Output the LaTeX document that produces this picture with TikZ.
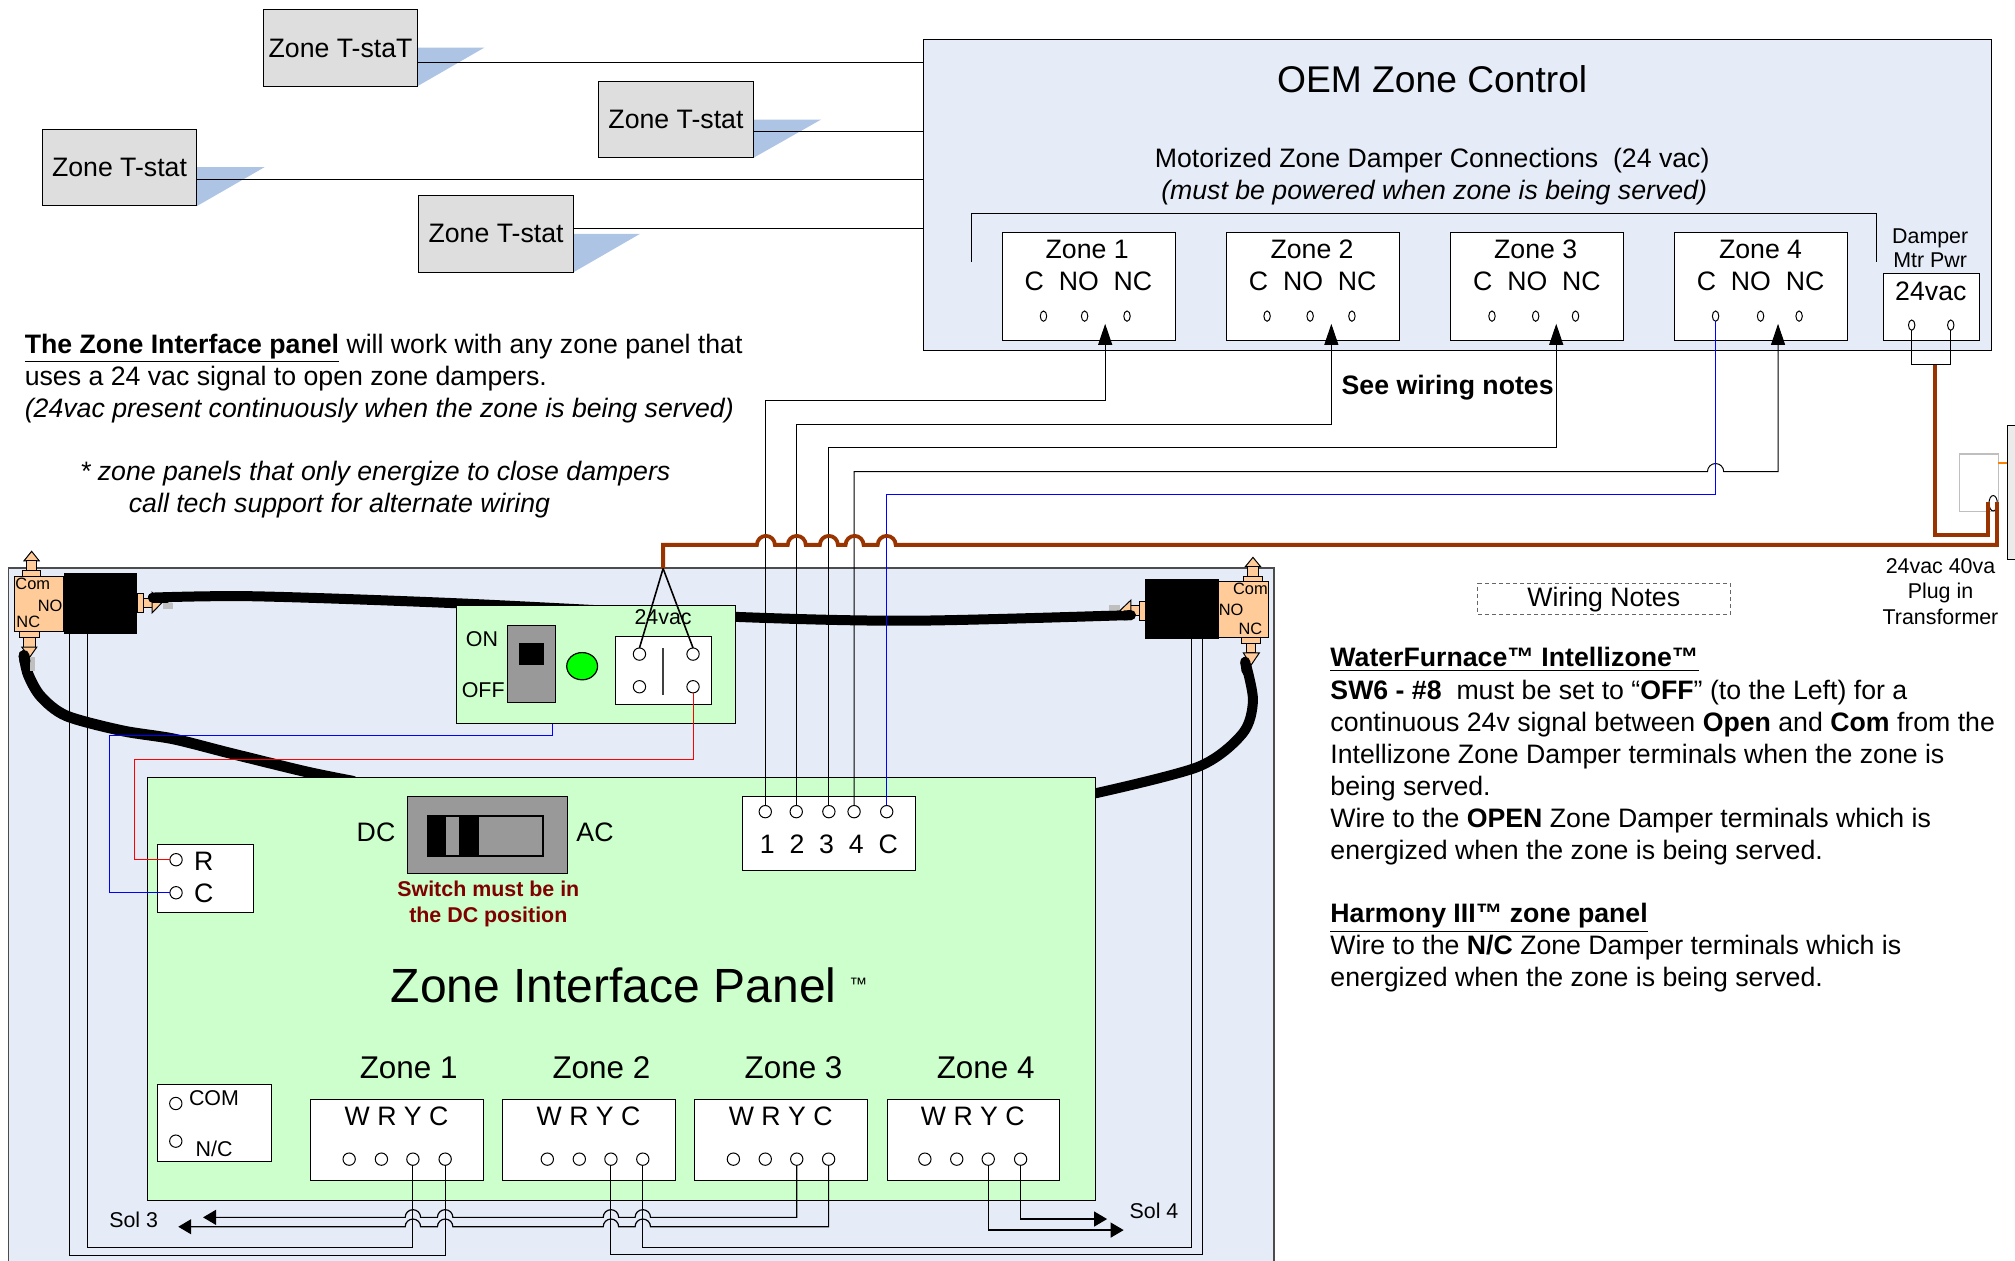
\documentclass[tikz,border=0pt]{standalone}
\usepackage{fontspec}
\setmainfont{Liberation Sans}
\usepackage{tikz}
\usetikzlibrary{arrows.meta, shapes.geometric}

\definecolor{panelblue}{HTML}{E6ECF7}
\definecolor{shadowblue}{HTML}{AEC4E5}
\definecolor{panelgreen}{HTML}{CCFFCC}
\definecolor{mainsbrown}{HTML}{993300}
\definecolor{valveorange}{HTML}{FFCC99}
\definecolor{notered}{HTML}{800000}

\tikzset{
  wh/.style 2 args={inner sep=0pt, outer sep=0pt, minimum width=#1*0.6425pt, minimum height=#2*0.6425pt},
  box/.style={draw, line width=0.5pt, fill=white},
  tstat/.style={draw, line width=0.5pt, fill=black!13, wh={120}{59.5}, font=\fontsize{13.34}{16}\selectfont},
  damperbox/.style={box, wh={134.5}{84.5}},
  wrycbox/.style={box, wh={134.5}{63.5}},
  term/.style={draw, ellipse, fill=white, line width=0.5pt, wh={9.6}{9.6}},
  smallterm/.style={draw, ellipse, fill=white, line width=0.5pt, wh={5}{8}},
  txt/.style={inner sep=0pt, anchor=base, font=\fontsize{13.34}{16}\selectfont},
  lefttxt/.style={inner sep=0pt, anchor=base west, font=\fontsize{13.34}{16}\selectfont},
  smalltxt/.style={inner sep=0pt, anchor=base, font=\fontsize{10.7}{13}\selectfont},
  valvetxt/.style={inner sep=0pt, anchor=base, font=\fontsize{8.2}{10}\selectfont},
  wire/.style={line width=0.5pt},
  bluewire/.style={line width=0.5pt, blue},
  redwire/.style={line width=0.5pt, red},
  mains/.style={line width=1.9pt, mainsbrown},
  tube/.style={line width=5pt, line cap=round},
  valve/.style={draw, line width=0.5pt, fill=valveorange},
  tip/.style={-{Triangle[length=6.5pt, width=7.5pt]}},
  tiprev/.style={{Triangle[length=6.5pt, width=7.5pt]}-},
  uptip/.style={-{Triangle[length=10.5pt, width=7pt]}}
}
\def\hop#1#2#3{-- ({#1-#3},#2) arc[start angle=180, end angle=360, radius=#3]}

\begin{document}
\begin{tikzpicture}[x=0.6425pt, y=-0.6425pt]
  \useasboundingbox (0,0) rectangle (1568,980.5);

  \fill[shadowblue] (325,37) -- (377,37) -- (325,67) -- cycle;
  \fill[shadowblue] (586,93) -- (639,93) -- (586,123) -- cycle;
  \fill[shadowblue] (153,130) -- (206,130) -- (153,160.5) -- cycle;
  \fill[shadowblue] (446,182) -- (498,182) -- (446,212) -- cycle;
  \node[tstat] (tstat1) at (265,37.5) {Zone T-staT};
  \node[tstat] (tstat2) at (526,93) {Zone T-stat};
  \node[tstat] (tstat3) at (93,130.5) {Zone T-stat};
  \node[tstat] (tstat4) at (386,182) {Zone T-stat};

  \node[draw, line width=0.5pt, fill=panelblue, wh={831.5}{242.5}] (oem) at (1134.25,151.75) {};
  \coordinate (oem1) at (718.5,49);
  \coordinate (oem2) at (718.5,102.5);
  \coordinate (oem3) at (718.5,140);
  \coordinate (oem4) at (718.5,177.5);
  \draw[wire] (tstat1.east |- oem1) -- (oem1);
  \draw[wire] (tstat2.east |- oem2) -- (oem2);
  \draw[wire] (tstat3.east |- oem3) -- (oem3);
  \draw[wire] (tstat4.east |- oem4) -- (oem4);

  \node[txt, font=\fontsize{18.6}{22}\selectfont] at (1114.5,72) {OEM Zone Control};
  \node[txt] at (1114.5,130) {Motorized Zone Damper Connections\ \ (24 vac)};
  \node[txt, font=\fontsize{13.34}{16}\itshape] at (1116,155) {(must be powered when zone is being served)};
  \draw[wire] (756,204) -- (756,166.5) -- (1460.5,166.5) -- (1460.5,204);

  \node[damperbox] (dz1) at (847.5,223) {};
  \node[damperbox] (dz2) at (1022,223) {};
  \node[damperbox] (dz3) at (1196,223) {};
  \node[damperbox] (dz4) at (1370.5,223) {};
  \node[txt] at (846,201) {Zone 1};
  \node[txt] at (1021,201) {Zone 2};
  \node[txt] at (1195,201) {Zone 3};
  \node[txt] at (1370,201) {Zone 4};
  \node[txt] at (847,226) {C\ \ NO\ \ NC};
  \node[txt] at (1021.5,226) {C\ \ NO\ \ NC};
  \node[txt] at (1196,226) {C\ \ NO\ \ NC};
  \node[txt] at (1370,226) {C\ \ NO\ \ NC};
  \node[smallterm] at (812,246) {};
  \node[smallterm] at (844,246) {};
  \node[smallterm] at (877,246) {};
  \node[smallterm] at (986,246) {};
  \node[smallterm] at (1019.5,246) {};
  \node[smallterm] at (1052,246) {};
  \node[smallterm] at (1161,246) {};
  \node[smallterm] at (1195,246) {};
  \node[smallterm] at (1226,246) {};
  \node[smallterm] (dz4c) at (1335,246) {};
  \node[smallterm] at (1370,246) {};
  \node[smallterm] at (1400,246) {};

  \node[smalltxt] at (1502,189.5) {Damper};
  \node[smalltxt] at (1502,208.5) {Mtr Pwr};
  \node[box, wh={74.5}{52}] (pwr) at (1503,238.7) {};
  \node[txt] at (1502.5,234) {24vac};
  \node[smallterm] (pwra) at (1487.6,253) {};
  \node[smallterm] (pwrb) at (1518,253) {};
  \coordinate (pwrout) at (1505.6,284);
  \draw[wire] (pwra.south) |- (pwrb.south |- pwrout) -- (pwrb.south);

  \node[txt, font=\fontsize{13.34}{16}\bfseries] at (1126.5,307) {See wiring notes};

  \node[lefttxt] at (19,275) {\underline{\textbf{The Zone Interface panel}} will work with any zone panel that};
  \node[lefttxt] at (19,300) {uses a 24 vac signal to open zone dampers.};
  \node[lefttxt, font=\fontsize{13.34}{16}\itshape] at (19,325) {(24vac present continuously when the zone is being served)};
  \node[lefttxt, font=\fontsize{13.34}{16}\itshape] at (62,374) {* zone panels that only energize to close dampers};
  \node[lefttxt, font=\fontsize{13.34}{16}\itshape] at (100,399) {call tech support for alternate wiring};

  \node[draw=black!70, line width=0.7pt, fill=panelblue, wh={985}{560}, anchor=north west] (outer) at (6.5,442) {};

  \draw[tube] plot[smooth] coordinates {(119,465) (198,464) (357,469.5) (572,480) (710,483) (880,478.6)};
  \draw[tube, line width=5.4pt] plot[smooth] coordinates {(18.7,510) (22,525) (31.8,542) (51.6,557) (95,568.6) (135,575) (178.7,586) (238,600.5) (275,608)};
  \draw[tube] plot[smooth] coordinates {(969,515) (975,545) (967,570.7) (932.6,596.6) (852.5,617.3)};

  \draw[valve] (18.7,436.4) -- (24.6,429) -- (30.5,436.4) -- cycle;
  \draw[valve] (20.6,436.4) rectangle (28.6,444);
  \draw[valve] (17.5,444) rectangle (31.8,448.3);
  \draw[valve] (11,448.3) rectangle (49.6,491.5);
  \draw[valve] (15.5,491.5) rectangle (30.5,496);
  \draw[valve] (18.3,496) rectangle (27.8,503.6);
  \draw[valve] (17,503.6) -- (28.6,503.6) -- (23,511.6) -- cycle;
  \draw[valve] (107,461.7) rectangle (111.6,476.6);
  \draw[valve] (111.6,465.7) rectangle (118.3,472.7);
  \draw[valve] (118.3,461) -- (126,469) -- (118.3,477) -- cycle;
  \fill[black!25] (127,469.6) rectangle (135,474);
  \fill[black!25] (23,511.6) rectangle (27.5,522);
  \node[fill=black, wh={57.5}{47.5}] (sol1) at (78.2,469.7) {};
  \draw[tube] (119,465) -- (130,465);
  \draw[tube, line width=5.4pt] (18.7,510) -- (19.5,515);
  \node[valvetxt] at (25.5,459) {Com};
  \node[valvetxt] at (39,476) {NO};
  \node[valvetxt] at (22,488) {NC};

  \draw[valve] (969,441) -- (975,433.7) -- (981,441) -- cycle;
  \draw[valve] (971,441) rectangle (979,448.3);
  \draw[valve] (967.5,448.3) rectangle (982.5,452.7);
  \draw[valve] (948.4,452.7) rectangle (987.3,496);
  \draw[valve] (966,496) rectangle (980.6,500.6);
  \draw[valve] (969.7,500.6) rectangle (977,508);
  \draw[valve] (967.5,508) -- (980,508) -- (973.5,517.6) -- cycle;
  \draw[valve] (886.4,467.7) rectangle (891,482.5);
  \draw[valve] (880,471) rectangle (886.4,479);
  \draw[valve] (880,467) -- (871.6,475) -- (880,482) -- cycle;
  \fill[black!25] (863,471) rectangle (871.6,475);
  \node[fill=black, wh={57.5}{46.7}] (sol2) at (919.7,474.2) {};
  \draw[tube] (875,478.9) -- (880,478.6);
  \draw[tube] (969,515) -- (970,522);
  \node[valvetxt] at (973,462.5) {Com};
  \node[valvetxt] at (958,479) {NO};
  \node[valvetxt] at (973,494) {NC};

  \node[draw, line width=0.5pt, fill=panelgreen, wh={216.7}{92.2}] (swpanel) at (463.6,516.9) {};
  \node[smalltxt] at (375,503) {ON};
  \node[smalltxt] at (376,542.5) {OFF};
  \node[draw, line width=0.5pt, fill=black!40, wh={37.4}{60}] (swbody) at (413.7,517) {};
  \node[fill=black, wh={19.6}{17}] at (413.8,509) {};
  \node[draw, ellipse, line width=0.6pt, fill=green, wh={24}{21.2}] (led) at (453,518.4) {};
  \node[box, wh={75}{52.5}] (relay) at (516.5,521.8) {};
  \draw[wire, line width=1pt, black!75] (516.3,504.4) -- (516.3,541);
  \node[term] (sw1) at (497.6,509) {};
  \node[term] (sw2) at (539.3,509) {};
  \node[term] (sw3) at (497.6,534.4) {};
  \node[term] (sw4) at (539.3,534.4) {};

  \node[draw, line width=0.5pt, fill=panelgreen, wh={738}{329}, anchor=north west] (panel) at (114.4,605) {};
  \node[draw, line width=0.5pt, fill=black!40, wh={124.7}{59.6}, anchor=north west] (dcsw) at (316.8,620) {};
  \draw[line width=1pt, fill=black!40] (332.7,635) rectangle (422.7,666);
  \fill (332.7,635) rectangle (347.4,666);
  \fill (357.4,635) rectangle (372,666);
  \draw[line width=1pt] (332.7,635) rectangle (372,666);
  \node[txt] at (292.6,654.5) {DC};
  \node[txt] at (463,654.5) {AC};
  \node[smalltxt, font=\fontsize{10.7}{13}\bfseries, text=notered] at (380,697.5) {Switch must be in};
  \node[smalltxt, font=\fontsize{10.7}{13}\bfseries, text=notered] at (380,717.5) {the DC position};

  \node[box, wh={75}{53}, anchor=north west] (rcbox) at (122.3,657) {};
  \node[term] (rterm) at (137,669) {};
  \node[term] (cterm) at (137,694.7) {};
  \node[txt] at (158.5,677) {R};
  \node[txt] at (158.5,702) {C};

  \node[txt, font=\fontsize{24}{28}\selectfont] at (477.5,780) {Zone Interface Panel};
  \node[txt, font=\fontsize{9}{11}\selectfont] at (668,771) {™};

  \node[box, wh={134.5}{57}, anchor=north west] (numbox) at (578,620) {};
  \node[term] (num1) at (595.5,631.6) {};
  \node[term] (num2) at (619.6,631.6) {};
  \node[term] (num3) at (645,631.6) {};
  \node[term] (num4) at (664.6,631.6) {};
  \node[term] (numc) at (690,631.6) {};
  \node[txt] at (645,664.5) {1\ \ 2\ \ 3\ \ 4\ \ C};

  \node[box, wh={89}{60}, anchor=north west] (combox) at (122.6,844) {};
  \node[term] at (136.8,858.7) {};
  \node[term] at (136.8,888) {};
  \node[smalltxt] at (166.5,860) {COM};
  \node[smalltxt] at (166.6,900) {N/C};

  \node[txt, font=\fontsize{15.7}{19}\selectfont] at (318,839) {Zone 1};
  \node[txt, font=\fontsize{15.7}{19}\selectfont] at (468,839) {Zone 2};
  \node[txt, font=\fontsize{15.7}{19}\selectfont] at (617.5,839) {Zone 3};
  \node[txt, font=\fontsize{15.7}{19}\selectfont] at (767,839) {Zone 4};
  \node[wrycbox] (wry1) at (309.2,887.2) {};
  \node[wrycbox] (wry2) at (458.5,887.2) {};
  \node[wrycbox] (wry3) at (607.9,887.2) {};
  \node[wrycbox] (wry4) at (757.5,887.2) {};
  \node[txt] at (308.6,876) {W R Y C};
  \node[txt] at (458,876) {W R Y C};
  \node[txt] at (607.5,876) {W R Y C};
  \node[txt] at (757,876) {W R Y C};
  \node[term] (z1w) at (271.7,902) {};
  \node[term] (z1r) at (296.8,902) {};
  \node[term] (z1y) at (321.3,902) {};
  \node[term] (z1c) at (346.4,902) {};
  \node[term] (z2w) at (425.9,902) {};
  \node[term] (z2r) at (450.8,902) {};
  \node[term] (z2y) at (475.4,902) {};
  \node[term] (z2c) at (500.2,902) {};
  \node[term] (z3w) at (570.7,902) {};
  \node[term] (z3r) at (595.5,902) {};
  \node[term] (z3y) at (620,902) {};
  \node[term] (z3c) at (644.8,902) {};
  \node[term] (z4w) at (719.7,902) {};
  \node[term] (z4r) at (744.5,902) {};
  \node[term] (z4y) at (769,902) {};
  \node[term] (z4c) at (794.2,902) {};

  \coordinate (arrow1) at (860,252);
  \coordinate (arrow2) at (1036,252);
  \coordinate (arrow3) at (1211,252);
  \coordinate (arrow4) at (1383.6,252);
  \draw[wire, uptip] (num1.north) |- (860,312) -- (arrow1);
  \draw[wire, uptip] (num2.north) |- (1036,330) -- (arrow2);
  \draw[wire, uptip] (num3.north) |- (1211,348) -- (arrow3);
  \draw[wire, uptip] (num4.north) -- (664.6,367) \hop{1335}{367}{6.3} -- (1383.6,367) -- (arrow4);
  \draw[bluewire] (numc.north) |- (1335,385) -- (dz4c.south);

  \coordinate (forkin) at (516,442.4);
  \draw[mains] (forkin) -- (516,424) \hop{596}{424}{7} \hop{620}{424}{7} \hop{645}{424}{7} \hop{665}{424}{7} \hop{690}{424}{7} -- (1554,424) -- (1554,391);
  \draw[mains] (pwrout) -- (1505.6,416.4) -- (1547,416.4) -- (1547,391);
  \draw[wire, line width=0.8pt] (forkin) -- (sw1.north);
  \draw[wire, line width=0.8pt] (forkin) -- (sw2.north);
  \node[smalltxt] at (516,486) {24vac};

  \coordinate (swout) at (429.6,572);
  \draw[bluewire] (swout |- swpanel.south) -- (swout) -- (85.4,572) |- (cterm.west);
  \draw[redwire] (sw4.south) |- (104.5,590.7) |- (rterm.west);

  \draw[wire, tiprev, line width=0.6pt] (158,947.3) \hop{321.3}{947.3}{6} \hop{346.4}{947.3}{6} \hop{475.4}{947.3}{6} \hop{500.2}{947.3}{6} -| (z3y.south);
  \draw[wire, tiprev, line width=0.6pt] (138.7,954.6) \hop{321.3}{954.6}{6} \hop{346.4}{954.6}{6} \hop{475.4}{954.6}{6} \hop{500.2}{954.6}{6} -| (z3c.south);
  \draw[wire, tip, line width=0.6pt] (z4c.south) |- (861.5,948.6);
  \draw[wire, tip, line width=0.6pt] (z4y.south) |- (874.4,957.2);
  \coordinate (run1) at (67.8,970.6);
  \coordinate (run2) at (54.2,976.6);
  \coordinate (run3) at (936,976);
  \coordinate (run4) at (927.3,970.6);
  \draw[wire] (z1y.south) |- (run1) -- (run1 |- sol1.south);
  \draw[wire] (z1c.south) |- (run2) -- (run2 |- sol1.south);
  \draw[wire] (z2y.south) |- (run3) -- (run3 |- sol2.south);
  \draw[wire] (z2c.south) |- (run4) -- (run4 |- sol2.south);
  \node[smalltxt] at (104,955) {Sol 3};
  \node[smalltxt] at (898,948.5) {Sol 4};

  \node[draw=black!25, line width=0.8pt, fill=white, wh={30.3}{44.7}, anchor=north west] (xfmr) at (1524.7,353.3) {};
  \draw[line width=1pt, orange] (1555,360.5) -- (1562,360.5);
  \node[draw, line width=0.5pt, fill=black!8, wh={30}{104}, anchor=north west] (outlet) at (1562,331) {};
  \node[draw, ellipse, line width=0.5pt, wh={6.5}{12}] (plug) at (1551,391.6) {};
  \draw[mains] (1554,405) -- (1554,391);
  \draw[mains] (1547,405) -- (1547,391);

  \node[draw=black!60, dash pattern=on 2pt off 1.5pt, line width=0.5pt, wh={196.5}{24}] (notes) at (1248.2,466) {};
  \node[txt] at (1248,472) {Wiring Notes};
  \node[smalltxt] at (1510,446) {24vac 40va};
  \node[smalltxt] at (1510,466) {Plug in};
  \node[smalltxt] at (1510,486) {Transformer};

  \node[lefttxt] at (1035,519) {\underline{\textbf{WaterFurnace™ Intellizone™}}};
  \node[lefttxt] at (1035,544) {\textbf{SW6 - \#8}\ \ must be set to “\textbf{OFF}” (to the Left) for a};
  \node[lefttxt] at (1035,569) {continuous 24v signal between \textbf{Open} and \textbf{Com} from the};
  \node[lefttxt] at (1035,594) {Intellizone Zone Damper terminals when the zone is};
  \node[lefttxt] at (1035,619) {being served.};
  \node[lefttxt] at (1035,644) {Wire to the \textbf{OPEN} Zone Damper terminals which is};
  \node[lefttxt] at (1035,669) {energized when the zone is being served.};
  \node[lefttxt] at (1035,718) {\underline{\textbf{Harmony III™ zone panel}}};
  \node[lefttxt] at (1035,743) {Wire to the \textbf{N/C} Zone Damper terminals which is};
  \node[lefttxt] at (1035,768) {energized when the zone is being served.};
\end{tikzpicture}
\end{document}
